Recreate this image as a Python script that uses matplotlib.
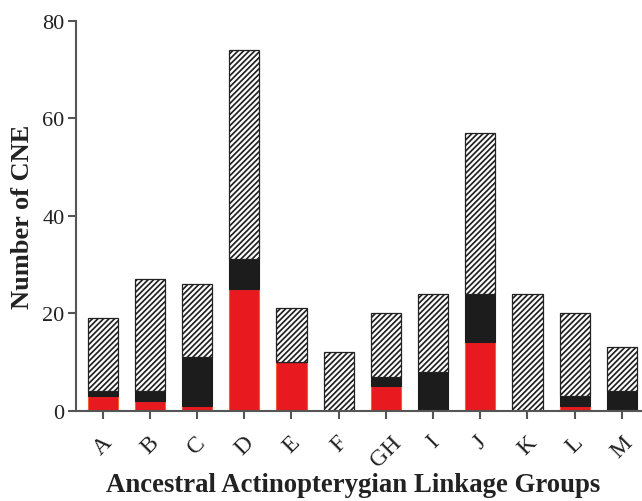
import matplotlib
matplotlib.use('Agg')
import matplotlib.pyplot as plt
import numpy as np

groups = ['A', 'B', 'C', 'D', 'E', 'F', 'GH', 'I', 'J', 'K', 'L', 'M']
red_vals = [3, 2, 1, 25, 10, 0, 5, 0, 14, 0, 1, 0]
black_vals = [1, 2, 10, 6, 0, 0, 2, 8, 10, 0, 2, 4]
totals = [19, 27, 26, 74, 21, 12, 20, 24, 57, 24, 20, 13]

plt.rcParams['font.family'] = ['Liberation Serif', 'DejaVu Serif']
plt.rcParams['hatch.linewidth'] = 1.25

red = np.array(red_vals)
black = np.array(black_vals)
hatched = np.array(totals) - red - black
x = np.arange(len(groups))
w = 0.64

fig = plt.figure(figsize=(6.42, 5.02), dpi=100)
ax = fig.add_axes([0.118, 0.18, 0.88, 0.777])

ax.bar(x, red, w, color='#e8191f', edgecolor='#f06030', linewidth=0.8)
ax.bar(x, black, w, bottom=red, color='#1c1c1c', edgecolor='#1c1c1c', linewidth=0.8)
ax.bar(x, hatched, w, bottom=red + black, color='white', edgecolor='#222222',
       hatch='//////', linewidth=0.9)

ax.set_ylim(0, 80)
ax.set_xlim(-0.57, 11.4)
ax.set_yticks([0, 20, 40, 60, 80])
ax.set_xticks(x)
ax.set_xticklabels(groups, rotation=45, ha='center')

for s in ['top', 'right']:
    ax.spines[s].set_visible(False)
for s in ['left', 'bottom']:
    ax.spines[s].set_color('#555555')
    ax.spines[s].set_linewidth(1.5)
ax.tick_params(colors='#555555', width=1.5, length=6, labelsize=16, labelcolor='#222222')
ax.tick_params(axis='y', pad=2)
ax.tick_params(axis='x', pad=9, labelsize=17)

ax.set_ylabel('Number of CNE', fontsize=19, fontweight='bold', color='#222222', labelpad=6)
# x label placed on the figure so it sits near the bottom edge like the original
fig.text(0.55, 0.02, 'Ancestral Actinopterygian Linkage Groups', fontsize=19.3,
         fontweight='bold', color='#222222', ha='center', va='baseline')

plt.savefig('out.png', dpi=100)
